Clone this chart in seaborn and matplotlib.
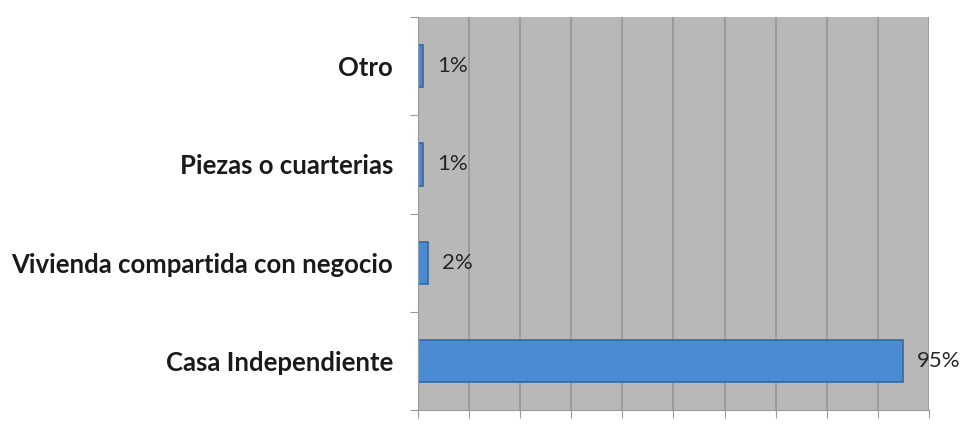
import numpy as np
import pandas as pd
import matplotlib
matplotlib.use('Agg')
import matplotlib.pyplot as plt
import seaborn as sns

categories = ['Otro', 'Piezas o cuarterias', 'Vivienda compartida con negocio', 'Casa Independiente']
values = [1, 1, 2, 95]
labels = ['1%', '1%', '2%', '95%']

sns.set_style('white')
plt.rcParams['font.family'] = ['Lato', 'DejaVu Sans']

df = pd.DataFrame({'tipo': categories, 'pct': values})

fig = plt.figure(figsize=(9.62, 4.36), dpi=100)
ax = fig.add_axes([0.4345, 0.0596, 0.5312, 0.9014])
ax.set_facecolor('#b8b8b8')

sns.barplot(data=df, x='pct', y='tipo', orient='h', color='#4a8bd2',
            saturation=1, width=0.43, edgecolor='#2f6aa8', linewidth=1.2, ax=ax)

ax.set_xlim(0, 100)
ax.set_xticks(np.arange(0, 101, 10))
ax.set_xticklabels([])
ax.xaxis.grid(True, color='#9a9a9a', linewidth=1.3)
ax.set_axisbelow(True)
ax.set_ylim(3.5, -0.5)
ax.set_yticks(np.arange(-0.5, 4, 1), minor=False)
ax.set_yticklabels([])
ax.set_yticks(np.arange(0, 4), minor=True)
ax.set_yticklabels(categories, minor=True, fontsize=18.5, fontweight='bold', color='#1a1a1a')
ax.tick_params(axis='y', which='minor', length=0, pad=18)
ax.tick_params(axis='y', which='major', length=6, color='#9a9a9a', direction='out', left=True)
ax.tick_params(axis='x', length=6, color='#9a9a9a', direction='out', bottom=True)
ax.set_xlabel('')
ax.set_ylabel('')

for s in ['top', 'right']:
    ax.spines[s].set_visible(False)
for s in ['left', 'bottom']:
    ax.spines[s].set_color('#9a9a9a')

ax.bar_label(ax.containers[0], labels=labels, padding=10, fontsize=16, color='#262626')

fig.savefig('out.png', dpi=100)
